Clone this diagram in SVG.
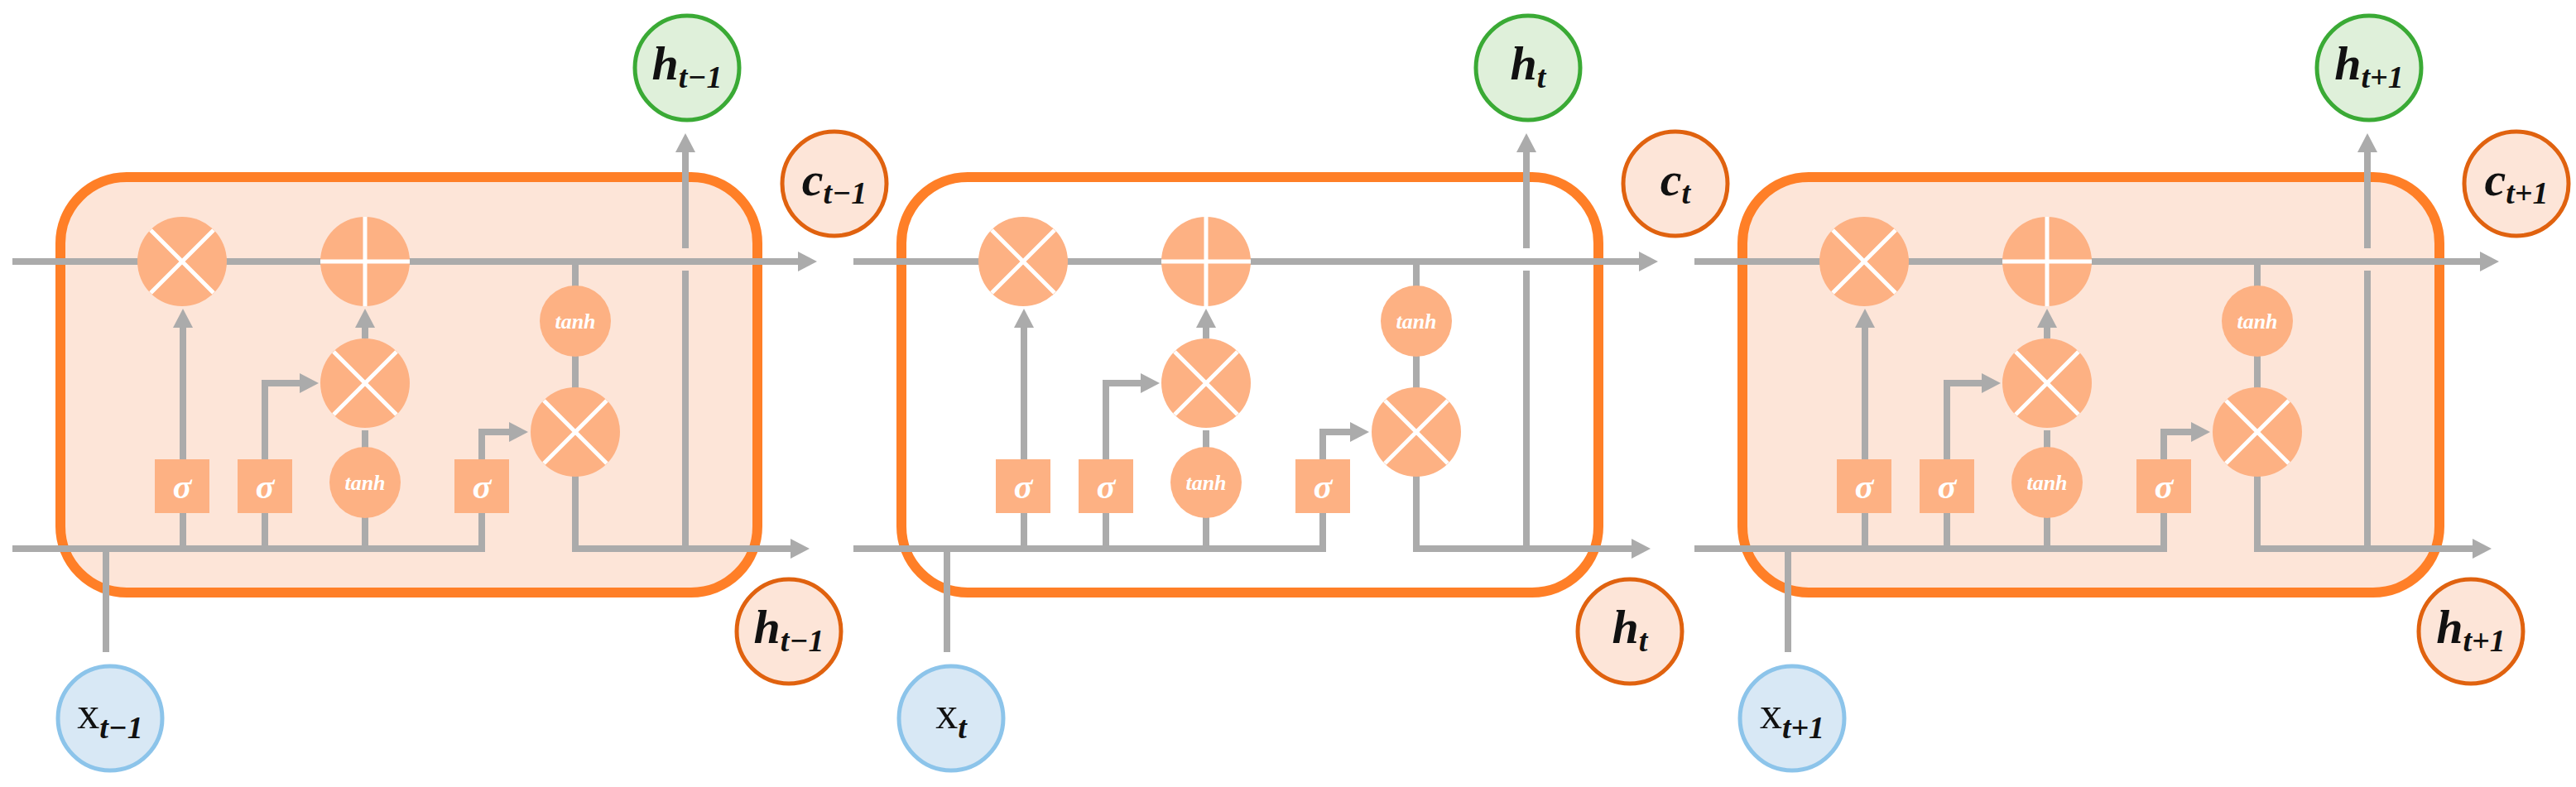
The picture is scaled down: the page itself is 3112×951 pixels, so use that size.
<svg xmlns="http://www.w3.org/2000/svg" xmlns:xlink="http://www.w3.org/1999/xlink" width="3112" height="951" viewBox="0 0 3112 951">
<style>
.ln{fill:none;stroke:#ababab;stroke-width:8}
.ar{marker-end:url(#ah)}
.box{stroke:#ff7f27;stroke-width:12}
.op{fill:#fdb183}
.wx{stroke:#fff;stroke-width:5}
.wt{fill:#fff;font-family:"Liberation Serif",serif;font-style:italic;font-weight:bold;text-anchor:middle}
.lbl{font-family:"Liberation Serif",serif;font-style:italic;font-weight:bold;text-anchor:middle;fill:#111}
.g{fill:#dff0da;stroke:#3aaa35;stroke-width:5}
.o{fill:#fde5d8;stroke:#e0620f;stroke-width:5}
.b{fill:#d8e8f5;stroke:#8cc4ea;stroke-width:5}
</style>
<defs>
<marker id="ah" markerUnits="userSpaceOnUse" markerWidth="24" markerHeight="24" refX="0" refY="12" orient="auto"><path d="M0,0 L23,12 L0,24 z" fill="#ababab"/></marker>
<g id="mul"><circle r="54" class="op"/><path class="wx" d="M-38,-38 L38,38 M38,-38 L-38,38"/></g>
<g id="add"><circle r="54" class="op"/><path class="wx" d="M0,-54 V54 M-54,0 H54"/></g>
<g id="sig"><rect x="-33" y="-33" width="66" height="65" class="op"/><text y="14" class="wt" font-size="42" font-weight="normal">σ</text></g>
<g id="tnh"><circle r="43" class="op"/><text y="9" class="wt" font-size="26">tanh</text></g>
<g id="cellc">
<path class="ln ar" d="M15,316 H964"/>
<path class="ln" d="M15,663 H582 V620"/>
<path class="ln ar" d="M582,555 V522 H615"/>
<path class="ln" d="M221,663 V620"/>
<path class="ln ar" d="M221,555 V396"/>
<path class="ln" d="M320,663 V620"/>
<path class="ln ar" d="M320,555 V463 H362"/>
<path class="ln" d="M441,663 V520"/>
<path class="ln ar" d="M441,409 V396"/>
<path class="ln" d="M695,316 V560"/>
<path class="ln ar" d="M695,560 V663 H955"/>
<path class="ln" d="M828,663 V327"/>
<path class="ln ar" d="M828,300 V184"/>
<path class="ln" d="M128,663 V788"/>
</g>
</defs>
<rect id="cell1" class="box" x="73" y="214" width="842" height="502" rx="80" fill="#fde5d8"/>
<rect id="cell2" class="box" x="1089" y="214" width="842" height="502" rx="80" fill="none"/>
<rect id="cell3" class="box" x="2105" y="214" width="842" height="502" rx="80" fill="#fde5d8"/>
<g id="connectors">
<use xlink:href="#cellc"/>
<use xlink:href="#cellc" x="1016"/>
<use xlink:href="#cellc" x="2032"/>
</g>
<g id="ops1">
<g id="f1"><use xlink:href="#mul" x="220" y="316"/></g>
<g id="a1"><use xlink:href="#add" x="441" y="316"/></g>
<g id="m1"><use xlink:href="#mul" x="441" y="463"/></g>
<g id="o1"><use xlink:href="#mul" x="695" y="522"/></g>
<g id="tt1"><use xlink:href="#tnh" x="695" y="388"/></g>
<g id="tb1"><use xlink:href="#tnh" x="441" y="583"/></g>
<g id="s1a"><use xlink:href="#sig" x="220" y="588"/></g>
<g id="s1b"><use xlink:href="#sig" x="320" y="588"/></g>
<g id="s1c"><use xlink:href="#sig" x="582" y="588"/></g>
</g>
<g id="ops2">
<g id="f2"><use xlink:href="#mul" x="1236" y="316"/></g>
<g id="a2"><use xlink:href="#add" x="1457" y="316"/></g>
<g id="m2"><use xlink:href="#mul" x="1457" y="463"/></g>
<g id="o2"><use xlink:href="#mul" x="1711" y="522"/></g>
<g id="tt2"><use xlink:href="#tnh" x="1711" y="388"/></g>
<g id="tb2"><use xlink:href="#tnh" x="1457" y="583"/></g>
<g id="s2a"><use xlink:href="#sig" x="1236" y="588"/></g>
<g id="s2b"><use xlink:href="#sig" x="1336" y="588"/></g>
<g id="s2c"><use xlink:href="#sig" x="1598" y="588"/></g>
</g>
<g id="ops3">
<g id="f3"><use xlink:href="#mul" x="2252" y="316"/></g>
<g id="a3"><use xlink:href="#add" x="2473" y="316"/></g>
<g id="m3"><use xlink:href="#mul" x="2473" y="463"/></g>
<g id="o3"><use xlink:href="#mul" x="2727" y="522"/></g>
<g id="tt3"><use xlink:href="#tnh" x="2727" y="388"/></g>
<g id="tb3"><use xlink:href="#tnh" x="2473" y="583"/></g>
<g id="s3a"><use xlink:href="#sig" x="2252" y="588"/></g>
<g id="s3b"><use xlink:href="#sig" x="2352" y="588"/></g>
<g id="s3c"><use xlink:href="#sig" x="2614" y="588"/></g>
</g>
<g id="hout1"><circle class="g" cx="830" cy="82" r="63"/><text class="lbl" x="830" y="96"><tspan font-size="58">h</tspan><tspan font-size="38" dy="10">t−1</tspan></text></g>
<g id="c1"><circle class="o" cx="1008" cy="222" r="63"/><text class="lbl" x="1008" y="236"><tspan font-size="58">c</tspan><tspan font-size="38" dy="10">t−1</tspan></text></g>
<g id="h1"><circle class="o" cx="953" cy="763" r="63"/><text class="lbl" x="953" y="777"><tspan font-size="58">h</tspan><tspan font-size="38" dy="10">t−1</tspan></text></g>
<g id="x1"><circle class="b" cx="133" cy="868" r="63"/><text class="lbl" x="133" y="880"><tspan font-size="54" font-style="normal" font-weight="normal">x</tspan><tspan font-size="38" dy="12">t−1</tspan></text></g>
<g id="hout2"><circle class="g" cx="1846" cy="82" r="63"/><text class="lbl" x="1846" y="96"><tspan font-size="58">h</tspan><tspan font-size="38" dy="10">t</tspan></text></g>
<g id="c2"><circle class="o" cx="2024" cy="222" r="63"/><text class="lbl" x="2024" y="236"><tspan font-size="58">c</tspan><tspan font-size="38" dy="10">t</tspan></text></g>
<g id="h2"><circle class="o" cx="1969" cy="763" r="63"/><text class="lbl" x="1969" y="777"><tspan font-size="58">h</tspan><tspan font-size="38" dy="10">t</tspan></text></g>
<g id="x2"><circle class="b" cx="1149" cy="868" r="63"/><text class="lbl" x="1149" y="880"><tspan font-size="54" font-style="normal" font-weight="normal">x</tspan><tspan font-size="38" dy="12">t</tspan></text></g>
<g id="hout3"><circle class="g" cx="2862" cy="82" r="63"/><text class="lbl" x="2862" y="96"><tspan font-size="58">h</tspan><tspan font-size="38" dy="10">t+1</tspan></text></g>
<g id="c3"><circle class="o" cx="3040" cy="222" r="63"/><text class="lbl" x="3040" y="236"><tspan font-size="58">c</tspan><tspan font-size="38" dy="10">t+1</tspan></text></g>
<g id="h3"><circle class="o" cx="2985" cy="763" r="63"/><text class="lbl" x="2985" y="777"><tspan font-size="58">h</tspan><tspan font-size="38" dy="10">t+1</tspan></text></g>
<g id="x3"><circle class="b" cx="2165" cy="868" r="63"/><text class="lbl" x="2165" y="880"><tspan font-size="54" font-style="normal" font-weight="normal">x</tspan><tspan font-size="38" dy="12">t+1</tspan></text></g>
</svg>
